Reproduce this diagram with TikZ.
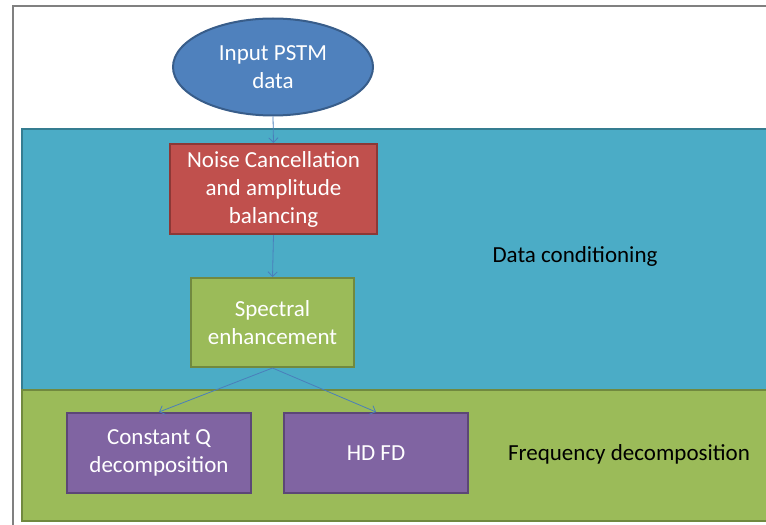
\documentclass[tikz,border=0pt]{standalone}
\usepackage{fontspec}
\setmainfont{Carlito}
\usepackage{tikz}
\usetikzlibrary{shapes.geometric, arrows.meta, positioning}

\definecolor{inblue}{HTML}{4F81BD}
\definecolor{inblueline}{HTML}{385D8A}
\definecolor{noisered}{HTML}{C0504D}
\definecolor{noiseredline}{HTML}{8C3836}
\definecolor{specgreen}{HTML}{9BBB59}
\definecolor{specgreenline}{HTML}{71893F}
\definecolor{decpurple}{HTML}{8064A2}
\definecolor{decpurpleline}{HTML}{5C4776}
\definecolor{condcyan}{HTML}{4BACC6}
\definecolor{condcyanline}{HTML}{357D91}
\definecolor{flowblue}{HTML}{4A7EBB}
\newcommand{\boxfont}{\fontsize{17.25}{21}\selectfont}

\tikzset{
  stagebox/.style={draw, line width=1.5pt, text=white, align=center, font=\boxfont, inner sep=0pt},
  flow/.style={-{Straight Barb[length=3.5pt,width=7pt]}, draw=flowblue, line width=0.6pt},
  panellabel/.style={font=\boxfont, text=black}
}

\begin{document}
\begin{tikzpicture}[x=0.75pt,y=-0.75pt]

  \clip (0,0) rectangle (766,524);

  % ---------- moldura e paineis ----------
  \draw[gray, line width=1.5pt] (13,6) rectangle (800,560);
  \draw[fill=condcyan, draw=condcyanline, line width=1.5pt] (22,129) rectangle (800,390);
  \draw[fill=specgreen, draw=specgreenline, line width=1.5pt] (22,390) rectangle (800,521);

  % ---------- etapas ----------
  \node[stagebox, ellipse, fill=inblue, draw=inblueline,
        minimum width=150pt, minimum height=72.75pt] (input) at (273,67) {Input PSTM\\data};
  \node[stagebox, rectangle, fill=noisered, draw=noiseredline,
        minimum width=155.25pt, minimum height=67.5pt] (noise) at (273.5,189)
        {Noise Cancellation\\and amplitude\\balancing};
  \node[stagebox, rectangle, fill=specgreen, draw=specgreenline,
        minimum width=122.25pt, minimum height=66.75pt] (spectral) at (272.5,322.5)
        {Spectral\\enhancement};
  \node[stagebox, rectangle, fill=decpurple, draw=decpurpleline,
        minimum width=138pt, minimum height=60pt] (constq) at (159,453)
        {Constant Q\\decomposition};
  \node[stagebox, rectangle, fill=decpurple, draw=decpurpleline,
        minimum width=138pt, minimum height=60pt] (hdfd) at (376,453) {HD FD};

  % ---------- rotulos dos paineis ----------
  \node[panellabel] (condlabel) at (575,256) {Data conditioning};
  \node[panellabel] (freqlabel) at (629,454) {Frequency decomposition};

  % ---------- setas ----------
  \draw[flow] (input.south) -- (noise.north);
  \draw[flow] (noise.south) -- (spectral.north);
  \draw[flow] (spectral.south) -- (constq.north);
  \draw[flow] (spectral.south) -- (hdfd.north);

\end{tikzpicture}
\end{document}
